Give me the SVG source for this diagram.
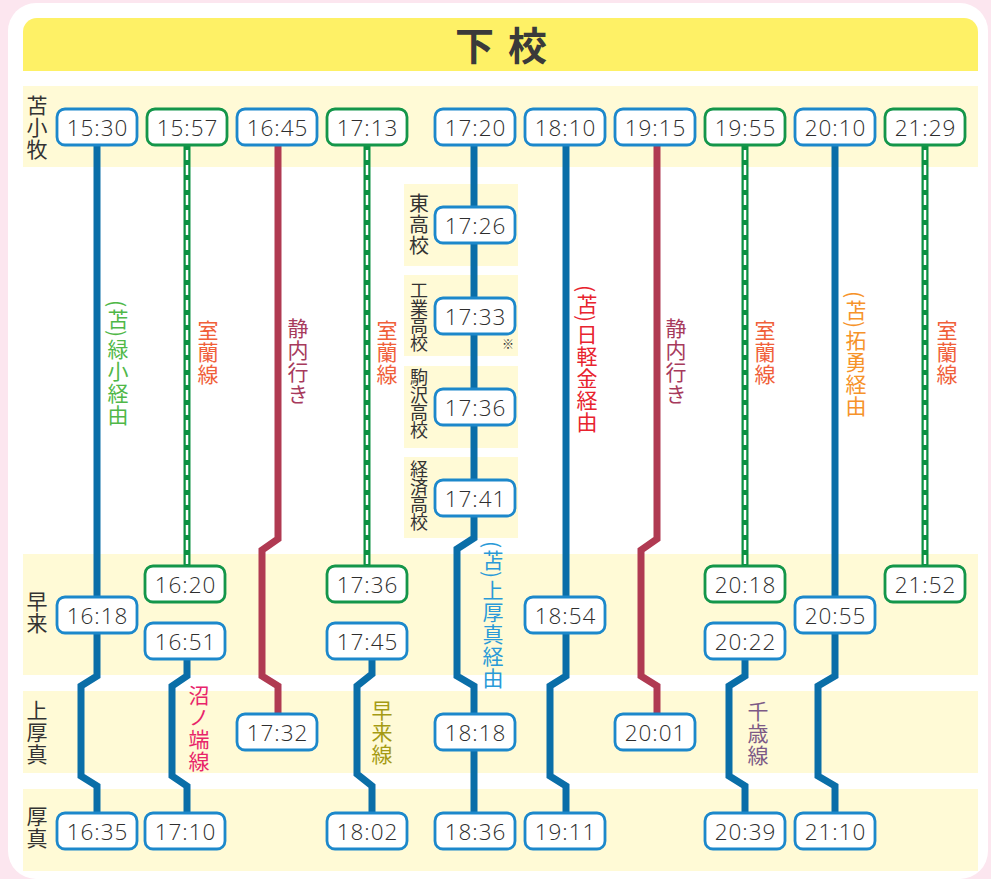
<svg xmlns="http://www.w3.org/2000/svg" width="991" height="879" viewBox="0 0 991 879">
<style>
.bx{fill:#fff;stroke-width:2.8}
.bb{stroke:#1c88cb}
.bg{stroke:#14964a}
.t{font-family:"Open Sans","Noto Sans",sans-serif;font-weight:300;font-size:22.5px;letter-spacing:1px;fill:#2e2e2e;text-anchor:middle;dominant-baseline:central}
.v{font-family:"Noto Sans CJK JP","Noto Sans",sans-serif;writing-mode:vertical-rl;font-size:21px;letter-spacing:1px}
.lab{fill:#333}
.s3{font-size:20px}
.s4{font-size:18px;letter-spacing:-0.3px}
.band{fill:#fffad6}
.ln{fill:none;stroke-width:7;stroke-linejoin:miter}
.blue{stroke:#0a6ea8}
.mar{stroke:#b03a52}
.grn{stroke:#0c9142}
.dash{fill:none;stroke:#fff;stroke-width:2.5;stroke-dasharray:10 5}
</style>
<rect x="0" y="0" width="991" height="879" fill="#fce6ef"/>
<rect x="8" y="3" width="980" height="876" rx="28" fill="#fff"/>
<path d="M23,71 V32 A14,14 0 0 1 37,18 H964 A14,14 0 0 1 978,32 V71 Z" fill="#fef166"/>
<text x="455 508" y="60" font-family="'Noto Sans CJK JP',sans-serif" font-size="39" font-weight="bold" fill="#3a3a3a">下校</text>
<g id="bands">
<rect class="band" x="23" y="86" width="955" height="81"/>
<rect class="band" x="23" y="554" width="955" height="121"/>
<rect class="band" x="23" y="691" width="955" height="82"/>
<rect class="band" x="23" y="789" width="955" height="82"/>
<rect class="band" x="404" y="184" width="114" height="82"/>
<rect class="band" x="404" y="275" width="114" height="81"/>
<rect class="band" x="404" y="366" width="114" height="82"/>
<rect class="band" x="404" y="457" width="114" height="81"/>
</g>
<g id="stops">
<text class="v lab" x="37" y="95">苫小牧</text>
<text class="v lab" x="37" y="591">早来</text>
<text class="v lab" x="37" y="700">上厚真</text>
<text class="v lab" x="37" y="806">厚真</text>
<text class="v lab s3" x="419" y="193">東高校</text>
<text class="v lab s4" x="419" y="281">工業高校</text>
<text class="v lab s4" x="419" y="368">駒沢高校</text>
<text class="v lab s4" x="419" y="460">経済高校</text>
</g>
<g id="connectors">
<path class="ln blue" d="M97,146 V676 L81,686 V776 L97,786 V813"/>
<path class="ln grn" d="M187,146 V566"/><path class="dash" d="M187,150 V564"/>
<path class="ln blue" d="M187,659 V676 L172,686 V776 L187,786 V813"/>
<path class="ln mar" d="M278,146 V539 L262,550 V676 L278,686 V714"/>
<path class="ln grn" d="M367,146 V566"/><path class="dash" d="M367,150 V564"/>
<path class="ln blue" d="M372,659 V674 L357,686 V774 L372,786 V813"/>
<path class="ln blue" d="M474,146 V538 L457,549 V676 L474,686 V813"/>
<path class="ln blue" d="M566,146 V676 L550,686 V776 L566,786 V813"/>
<path class="ln mar" d="M657,146 V539 L641,550 V676 L657,686 V714"/>
<path class="ln grn" d="M745,146 V566"/><path class="dash" d="M745,150 V564"/>
<path class="ln blue" d="M745,659 V676 L729,686 V776 L745,786 V813"/>
<path class="ln blue" d="M835,146 V676 L818,686 V776 L835,786 V813"/>
<path class="ln grn" d="M925,146 V566"/><path class="dash" d="M925,150 V564"/>
</g>
<g id="routes">
<text class="v" x="118" y="300" fill="#50b848">(苫)緑小経由</text>
<text class="v" x="208" y="320" fill="#f0603a">室蘭線</text>
<text class="v" x="298" y="318" fill="#a73a5c">静内行き</text>
<text class="v" x="387" y="320" fill="#f0603a">室蘭線</text>
<text class="v" x="587" y="285" fill="#e8232e">(苫)日軽金経由</text>
<text class="v" x="676" y="318" fill="#a73a5c">静内行き</text>
<text class="v" x="765" y="320" fill="#f0603a">室蘭線</text>
<text class="v" x="856" y="291" fill="#f6932a">(苫)拓勇経由</text>
<text class="v" x="947" y="320" fill="#f0603a">室蘭線</text>
<text class="v" x="493" y="541" fill="#2a9ad8">(苫)上厚真経由</text>
<text class="v" x="199" y="685" fill="#e8246a">沼ノ端線</text>
<text class="v" x="382" y="700" fill="#a59a14">早来線</text>
<text class="v" x="758" y="701" fill="#7d5a86">千歳線</text>
</g>
<g id="n1530"><rect class="bx bb" x="57" y="109" width="80" height="36" rx="8"/><text class="t" x="97.5" y="127">15:30</text></g>
<g id="n1557"><rect class="bx bg" x="147" y="109" width="80" height="36" rx="8"/><text class="t" x="187.5" y="127">15:57</text></g>
<g id="n1645"><rect class="bx bb" x="237" y="109" width="80" height="36" rx="8"/><text class="t" x="277.5" y="127">16:45</text></g>
<g id="n1713"><rect class="bx bg" x="327" y="109" width="80" height="36" rx="8"/><text class="t" x="367.5" y="127">17:13</text></g>
<g id="n1720"><rect class="bx bb" x="435" y="109" width="80" height="36" rx="8"/><text class="t" x="475.5" y="127">17:20</text></g>
<g id="n1810"><rect class="bx bb" x="525" y="109" width="80" height="36" rx="8"/><text class="t" x="565.5" y="127">18:10</text></g>
<g id="n1915"><rect class="bx bb" x="615" y="109" width="80" height="36" rx="8"/><text class="t" x="655.5" y="127">19:15</text></g>
<g id="n1955"><rect class="bx bg" x="705" y="109" width="80" height="36" rx="8"/><text class="t" x="745.5" y="127">19:55</text></g>
<g id="n2010"><rect class="bx bb" x="795" y="109" width="80" height="36" rx="8"/><text class="t" x="835.5" y="127">20:10</text></g>
<g id="n2129"><rect class="bx bg" x="885" y="109" width="80" height="36" rx="8"/><text class="t" x="925.5" y="127">21:29</text></g>
<g id="n1726"><rect class="bx bb" x="435" y="207" width="80" height="36" rx="8"/><text class="t" x="475.5" y="225">17:26</text></g>
<g id="n1733"><rect class="bx bb" x="435" y="298" width="80" height="36" rx="8"/><text class="t" x="475.5" y="316">17:33</text><text x="508" y="349" font-family="'Noto Sans CJK JP',sans-serif" font-size="12" fill="#333" text-anchor="middle">※</text></g>
<g id="n1736s"><rect class="bx bb" x="435" y="389" width="80" height="36" rx="8"/><text class="t" x="475.5" y="407">17:36</text></g>
<g id="n1741"><rect class="bx bb" x="435" y="480" width="80" height="36" rx="8"/><text class="t" x="475.5" y="498">17:41</text></g>
<g id="n1620"><rect class="bx bg" x="145" y="566" width="80" height="36" rx="8"/><text class="t" x="185.5" y="584">16:20</text></g>
<g id="n1618"><rect class="bx bb" x="57" y="597" width="80" height="36" rx="8"/><text class="t" x="97.5" y="615">16:18</text></g>
<g id="n1651"><rect class="bx bb" x="145" y="623" width="80" height="36" rx="8"/><text class="t" x="185.5" y="641">16:51</text></g>
<g id="n1736"><rect class="bx bg" x="327" y="566" width="80" height="36" rx="8"/><text class="t" x="367.5" y="584">17:36</text></g>
<g id="n1745"><rect class="bx bb" x="327" y="623" width="80" height="36" rx="8"/><text class="t" x="367.5" y="641">17:45</text></g>
<g id="n1854"><rect class="bx bb" x="525" y="597" width="80" height="36" rx="8"/><text class="t" x="565.5" y="615">18:54</text></g>
<g id="n2018"><rect class="bx bg" x="705" y="566" width="80" height="36" rx="8"/><text class="t" x="745.5" y="584">20:18</text></g>
<g id="n2022"><rect class="bx bb" x="705" y="623" width="80" height="36" rx="8"/><text class="t" x="745.5" y="641">20:22</text></g>
<g id="n2055"><rect class="bx bb" x="795" y="597" width="80" height="36" rx="8"/><text class="t" x="835.5" y="615">20:55</text></g>
<g id="n2152"><rect class="bx bg" x="885" y="566" width="80" height="36" rx="8"/><text class="t" x="925.5" y="584">21:52</text></g>
<g id="n1732"><rect class="bx bb" x="237" y="714" width="80" height="36" rx="8"/><text class="t" x="277.5" y="732">17:32</text></g>
<g id="n1818"><rect class="bx bb" x="435" y="714" width="80" height="36" rx="8"/><text class="t" x="475.5" y="732">18:18</text></g>
<g id="n2001"><rect class="bx bb" x="615" y="714" width="80" height="36" rx="8"/><text class="t" x="655.5" y="732">20:01</text></g>
<g id="n1635"><rect class="bx bb" x="57" y="813" width="80" height="36" rx="8"/><text class="t" x="97.5" y="831">16:35</text></g>
<g id="n1710"><rect class="bx bb" x="145" y="813" width="80" height="36" rx="8"/><text class="t" x="185.5" y="831">17:10</text></g>
<g id="n1802"><rect class="bx bb" x="327" y="813" width="80" height="36" rx="8"/><text class="t" x="367.5" y="831">18:02</text></g>
<g id="n1836"><rect class="bx bb" x="435" y="813" width="80" height="36" rx="8"/><text class="t" x="475.5" y="831">18:36</text></g>
<g id="n1911"><rect class="bx bb" x="525" y="813" width="80" height="36" rx="8"/><text class="t" x="565.5" y="831">19:11</text></g>
<g id="n2039"><rect class="bx bb" x="705" y="813" width="80" height="36" rx="8"/><text class="t" x="745.5" y="831">20:39</text></g>
<g id="n2110"><rect class="bx bb" x="795" y="813" width="80" height="36" rx="8"/><text class="t" x="835.5" y="831">21:10</text></g>
</svg>
